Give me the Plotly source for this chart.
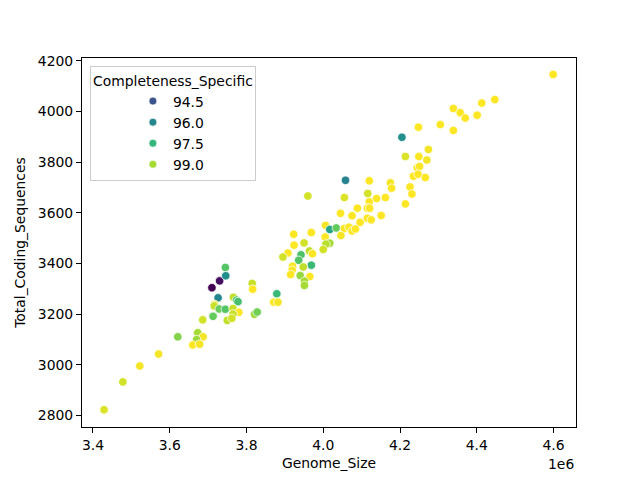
import numpy as np
import plotly.graph_objects as go
from plotly.colors import sample_colorscale

# genome size in units of 1e6
genome_mb = [
    3.429, 3.478, 3.522, 3.571, 3.621, 3.673, 3.687, 3.670, 3.660, 3.678,
    3.686, 3.713, 3.710, 3.730, 3.726, 3.717, 3.716, 3.729, 3.745, 3.766,
    3.774, 3.778, 3.765, 3.780, 3.765, 3.750, 3.762, 3.815, 3.816, 3.821,
    3.828, 3.879, 3.871, 3.882, 3.745, 3.746, 4.058, 3.960, 4.055, 4.120,
    4.175, 4.178, 4.226, 4.231, 4.214, 4.116, 4.139, 4.162, 4.120, 4.115,
    4.121, 4.089, 4.045, 4.075, 4.096, 4.115, 4.125, 4.151, 4.006, 4.017,
    4.034, 4.055, 4.067, 4.075, 4.084, 4.046, 3.923, 3.969, 4.005, 3.950,
    3.924, 4.017, 4.007, 4.000, 3.908, 3.895, 3.942, 3.964, 3.972, 3.936,
    3.969, 3.948, 3.920, 3.919, 3.915, 3.940, 3.965, 3.951, 3.951, 4.599,
    4.447, 4.413, 4.339, 4.357, 4.370, 4.401, 4.305, 4.339, 4.248, 4.205,
    4.274, 4.214, 4.249, 4.270, 4.245, 4.251, 4.235, 4.247, 4.266,
]
coding_seqs = [
    2822, 2932, 2995, 3042, 3110, 3126, 3110, 3099, 3078, 3081,
    3177, 3191, 3304, 3331, 3264, 3238, 3232, 3220, 3219, 3266,
    3255, 3249, 3222, 3207, 3200, 3175, 3183, 3321, 3298, 3199,
    3208, 3280, 3247, 3247, 3384, 3351, 3728, 3666, 3660, 3726,
    3718, 3697, 3702, 3674, 3635, 3676, 3656, 3660, 3643, 3618,
    3618, 3618, 3598, 3588, 3562, 3578, 3572, 3589, 3550, 3534,
    3540, 3538, 3543, 3528, 3536, 3510, 3515, 3522, 3504, 3481,
    3472, 3480, 3476, 3455, 3441, 3425, 3434, 3449, 3438, 3412,
    3393, 3386, 3389, 3373, 3356, 3352, 3348, 3330, 3313, 4146,
    4047, 4033, 4012, 3995, 3974, 3985, 3948, 3925, 3938, 3898,
    3850, 3822, 3822, 3808, 3778, 3783, 3744, 3752, 3739,
]
completeness = [
    99.6, 99.5, 99.9, 99.9, 98.6, 99.0, 99.9, 98.9, 100.0, 99.9,
    99.5, 98.2, 92.6, 92.9, 96.0, 99.9, 99.4, 98.3, 98.0, 99.3,
    98.0, 97.8, 99.4, 100.0, 99.4, 99.3, 99.5, 99.4, 100.0, 98.9,
    98.4, 97.6, 100.0, 99.9, 98.0, 96.2, 95.9, 99.5, 99.6, 100.0,
    99.9, 100.0, 100.0, 100.0, 100.0, 99.5, 100.0, 100.0, 100.0, 100.0,
    100.0, 100.0, 100.0, 100.0, 100.0, 100.0, 100.0, 100.0, 99.9, 96.9,
    98.2, 100.0, 100.0, 100.0, 100.0, 99.9, 100.0, 100.0, 100.0, 99.5,
    100.0, 99.0, 99.2, 99.5, 100.0, 99.5, 97.9, 99.3, 100.0, 98.0,
    97.6, 99.3, 100.0, 100.0, 100.0, 98.8, 100.0, 99.0, 99.0, 100.0,
    100.0, 100.0, 100.0, 100.0, 100.0, 100.0, 100.0, 100.0, 100.0, 96.3,
    99.9, 99.6, 100.0, 99.9, 100.0, 100.0, 100.0, 100.0, 100.0,
]
legend_levels = [94.5, 96.0, 97.5, 99.0]
x_ticks_mb = [3.4, 3.6, 3.8, 4.0, 4.2, 4.4, 4.6]
y_ticks = [2800, 3000, 3200, 3400, 3600, 3800, 4000, 4200]

genome_size = np.array(genome_mb) * 1e6
cmin, cmax = min(completeness), max(completeness)

fig = go.Figure()
fig.add_trace(go.Scatter(
    x=genome_size, y=coding_seqs, mode="markers", showlegend=False,
    marker=dict(color=completeness, colorscale="Viridis", cmin=cmin, cmax=cmax,
                size=8.5, line=dict(color="white", width=0.75)),
))

for lvl in legend_levels:
    c = sample_colorscale("Viridis", [(lvl - cmin) / (cmax - cmin)])[0]
    fig.add_trace(go.Scatter(
        x=[None], y=[None], mode="markers", name=f"{lvl:.1f}",
        marker=dict(color=c, size=8, line=dict(color="white", width=0.75)),
    ))

axis_style = dict(
    showline=True, linecolor="black", linewidth=1, mirror=True,
    ticks="outside", ticklen=5, tickwidth=1, tickcolor="black",
    showgrid=False, zeroline=False, title_font=dict(size=13.9),
)

# page has an 8px body margin, so the figure is drawn slightly smaller
fig.update_layout(
    width=632, height=472,
    margin=dict(l=72, r=64, t=50, b=53),
    plot_bgcolor="white", paper_bgcolor="white",
    font=dict(family="DejaVu Sans", size=13.9, color="black"),
    xaxis=dict(range=[3.3715e6, 4.6585e6],
               tickvals=[t * 1e6 for t in x_ticks_mb],
               ticktext=[f"{t:.1f}" for t in x_ticks_mb],
               title=dict(text="Genome_Size", standoff=6), **axis_style),
    yaxis=dict(range=[2754, 4211], tickvals=y_ticks,
               title=dict(text="Total_Coding_Sequences", standoff=8), **axis_style),
    legend=dict(x=0.016, y=0.977, xanchor="left", yanchor="top",
                bgcolor="rgba(255,255,255,0.8)", bordercolor="#cccccc", borderwidth=1,
                title=dict(text="Completeness_Specific", side="top center",
                           font=dict(size=13.9)),
                font=dict(size=13.9), indentation=42, itemwidth=30),
)

fig.add_annotation(text="1e6", xref="paper", yref="paper", x=1.0, y=-0.072,
                   xanchor="right", yanchor="top", showarrow=False,
                   font=dict(size=13.9))

fig.write_html("out.html")
